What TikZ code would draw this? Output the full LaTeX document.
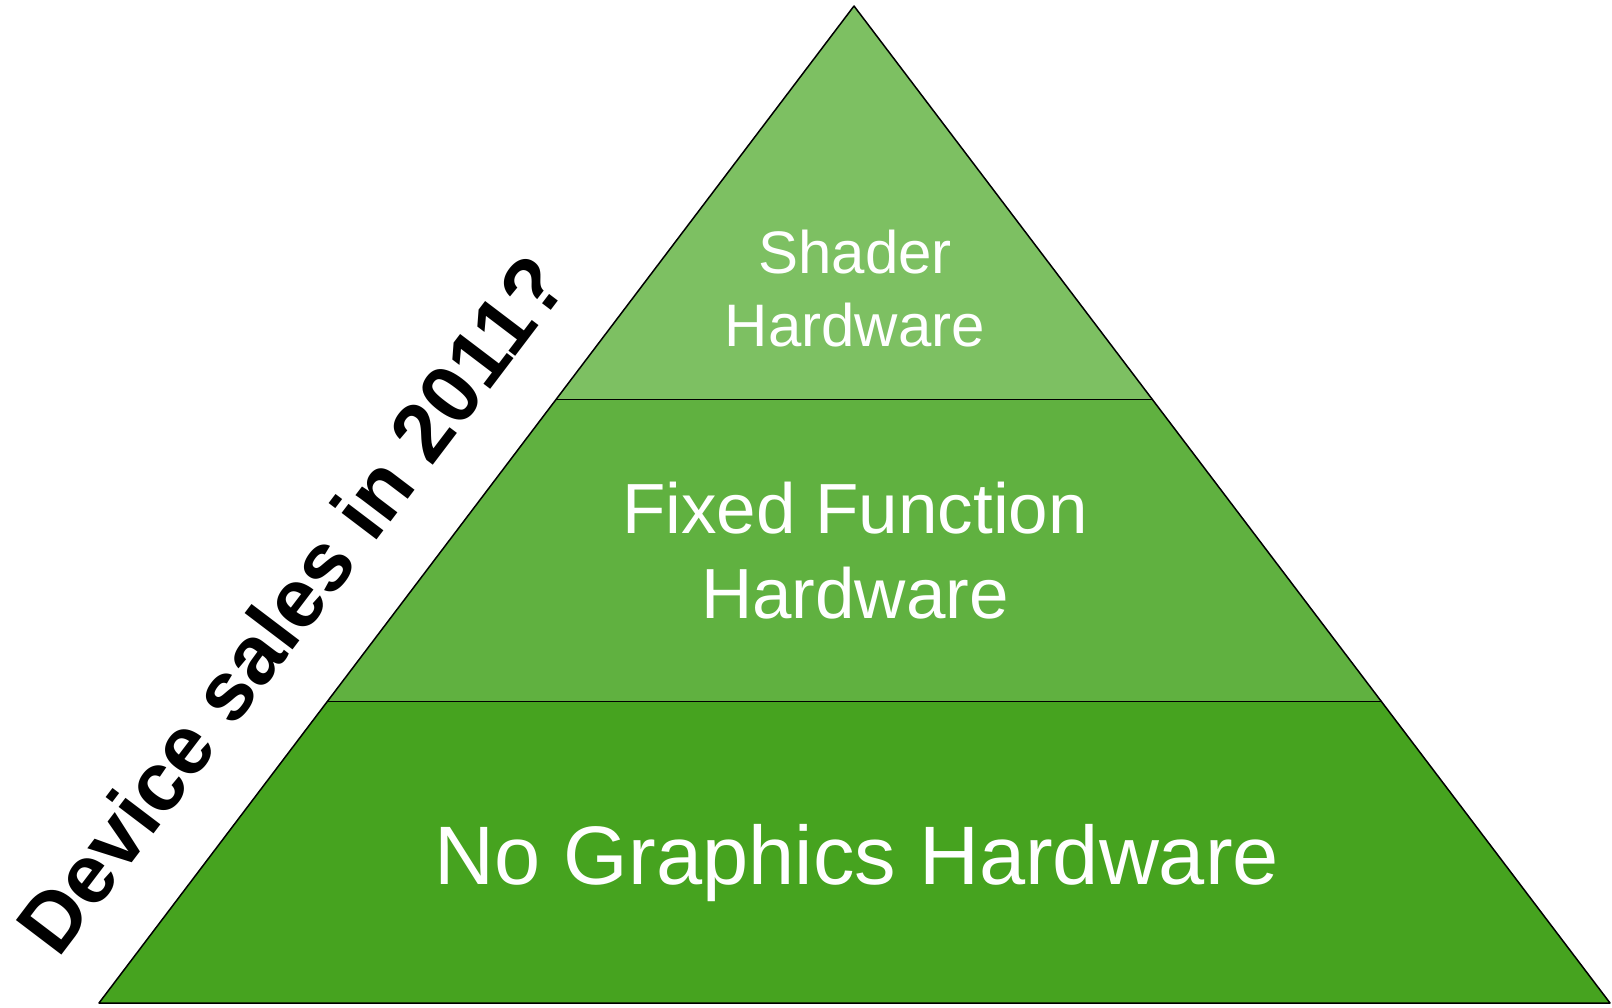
\documentclass[tikz,border=0pt]{standalone}
\usepackage{fontspec}
\setmainfont{Liberation Sans}
\usetikzlibrary{calc}
\definecolor{tiertop}{HTML}{7DC062}
\definecolor{tiermid}{HTML}{60B140}
\definecolor{tierbot}{HTML}{46A31F}
\tikzset{
  tierline/.style={draw=black, line width=1.5pt, line join=round},
  tierlabel/.style={text=white, align=center, inner sep=0pt},
}
\begin{document}
\begin{tikzpicture}[x=1pt,y=-1pt]
  \useasboundingbox (0,0) rectangle (1612,1007);
  % pyramid corners
  \coordinate (apex) at (854,6);
  \coordinate (bl) at (99,1003);
  \coordinate (br) at (1610,1003);
  % tier boundaries on both sides
  \coordinate (l1) at ($(apex)!0.3946!(bl)$);
  \coordinate (r1) at ($(apex)!0.3946!(br)$);
  \coordinate (l2) at ($(apex)!0.6978!(bl)$);
  \coordinate (r2) at ($(apex)!0.6978!(br)$);
  % tiers
  \fill[tiertop] (apex) -- (l1) -- (r1) -- cycle;
  \fill[tiermid] (l1) -- (l2) -- (r2) -- (r1) -- cycle;
  \fill[tierbot] (l2) -- (bl) -- (br) -- (r2) -- cycle;
  \draw[tierline] (apex) -- (bl) -- (br) -- cycle;
  \draw[tierline] (l1) -- (r1);
  \draw[tierline] (l2) -- (r2);
  % labels (base anchor sits on the last line)
  \node[tierlabel, font=\fontsize{60}{73}\selectfont, anchor=base] (shader) at (855,346) {Shader\\Hardware};
  \node[tierlabel, font=\fontsize{71}{85}\selectfont, anchor=base] (fixed) at (855,618) {Fixed Function\\Hardware};
  \node[tierlabel, font=\fontsize{83}{98}\selectfont, anchor=base] (nographics) at (857,884) {No Graphics Hardware};
  % slanted caption along the left edge
  \node[inner sep=0pt, anchor=base west, rotate=52.8, font=\bfseries\fontsize{83}{97}\selectfont] (sales) at (58,960) {Device sales in 2011?};
\end{tikzpicture}
\end{document}
